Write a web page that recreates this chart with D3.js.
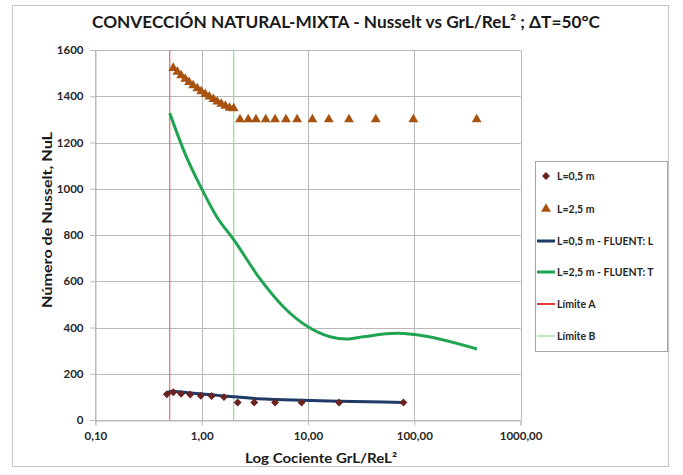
<!DOCTYPE html>
<html>
<head>
<meta charset="utf-8">
<script src="https://cdn.jsdelivr.net/npm/d3@7"></script>
<style>
  body { margin: 0; background: #fff; }
  svg { display: block; font-family: Lato, "Open Sans", sans-serif; }
</style>
</head>
<body>
<svg id="chart" width="683" height="475"></svg>
<script>
// Axis ticks
const xTicks = [0.1, 1, 10, 100, 1000];
const yTicks = [0, 200, 400, 600, 800, 1000, 1200, 1400, 1600];

// L = 0,5 m (measured points)
const l05X = [0.47, 0.54, 0.64, 0.78, 0.98, 1.24, 1.62, 2.18, 3.12, 4.9, 8.7, 19.6, 79];
const l05Y = [111, 120, 113, 110, 105, 104, 99, 76, 76, 76, 76, 76, 76];

// L = 2,5 m (measured points)
const l25X = [0.54, 0.59, 0.64, 0.70, 0.76, 0.83, 0.91, 0.99, 1.08, 1.18, 1.29, 1.40, 1.53, 1.67, 1.83, 2.0,
              2.29, 2.74, 3.24, 4.0, 4.9, 6.2, 7.9, 11.0, 15.7, 24.3, 43.4, 98, 386];
const l25Y = [1522, 1505, 1490, 1475, 1461, 1447, 1434, 1421, 1409, 1398, 1387, 1377, 1367, 1358, 1350, 1347,
              1300, 1300, 1300, 1300, 1300, 1300, 1300, 1300, 1300, 1300, 1300, 1300, 1300];

// FLUENT, laminar (L = 0,5 m)
const fluentLX = [0.47, 0.54, 0.64, 0.78, 0.98, 1.24, 1.62, 2.18, 3.12, 4.9, 8.7, 19.6, 79];
const fluentLY = [118, 124, 121, 117, 113, 109, 104, 99, 93, 89, 85, 81, 76];

// FLUENT, turbulent (L = 2,5 m)
const fluentTX = [0.5, 0.7, 1.0, 1.38, 2.0, 3.54, 5.86, 10, 16.1, 23.1, 33.1, 68.4, 100, 389];
const fluentTY = [1327, 1150, 1000, 880, 780, 610, 490, 403, 360, 350, 360, 375, 370, 307];

// Regime limits
const limitA = 0.5;
const limitB = 2.0;

const legendLabels = ["L=0,5 m", "L=2,5 m", "L=0,5 m - FLUENT: L", "L=2,5 m - FLUENT: T", "Límite A", "Límite B"];

const colors = {
  diamond: "#6b2222",
  triangle: "#a8520f",
  fluentL: "#1f3a66",
  fluentT: "#1fa552",
  limitA: "#ef7272",
  limitB: "#8fe08f",
  grid: "#b9b9b9",
  text: "#262626"
};

const svg = d3.select("#chart");

// Chart frame
svg.append("rect")
  .attr("x", 12.5).attr("y", 5.5).attr("width", 656).attr("height", 461)
  .attr("fill", "#fff").attr("stroke", "#c4c4c4");

const x = d3.scaleLog().domain([0.1, 1000]).range([95.4, 520.6]);
const y = d3.scaleLinear().domain([0, 1600]).range([420, 50]);

// Grid
svg.append("g").selectAll("line").data(yTicks).join("line")
  .attr("x1", x(0.1)).attr("x2", x(1000))
  .attr("y1", d => Math.round(y(d)) + 0.5).attr("y2", d => Math.round(y(d)) + 0.5)
  .attr("stroke", colors.grid).attr("stroke-width", 1);
svg.append("g").selectAll("line").data(xTicks).join("line")
  .attr("x1", d => Math.round(x(d)) + 0.5).attr("x2", d => Math.round(x(d)) + 0.5)
  .attr("y1", y(1600)).attr("y2", y(0))
  .attr("stroke", colors.grid).attr("stroke-width", 1);

// Axes
const fmtX = d => d3.format(".2f")(d).replace(".", ",");
const xAxis = d3.axisBottom(x).tickValues(xTicks).tickFormat(fmtX).tickSize(5).tickPadding(6);
const yAxis = d3.axisLeft(y).tickValues(yTicks).tickFormat(d3.format("d")).tickSize(5).tickPadding(6);

const gx = svg.append("g").attr("transform", "translate(0,420.5)").call(xAxis);
const gy = svg.append("g").attr("transform", "translate(95.5,0)").call(yAxis);
[gx, gy].forEach(g => {
  g.select(".domain").attr("stroke", colors.grid);
  g.selectAll(".tick line").attr("stroke", colors.grid);
  g.selectAll(".tick text")
    .attr("fill", colors.text)
    .style("font-family", "Lato, sans-serif")
    .style("font-weight", "bold")
    .style("font-size", "11.5px");
});
gy.selectAll(".tick text").attr("x", -12);

// Limit lines
svg.append("line")
  .attr("x1", x(limitA)).attr("x2", x(limitA)).attr("y1", y(1600)).attr("y2", y(0))
  .attr("stroke", colors.limitA).attr("stroke-width", 1.3);
svg.append("line")
  .attr("x1", x(limitB)).attr("x2", x(limitB)).attr("y1", y(1600)).attr("y2", y(0))
  .attr("stroke", colors.limitB).attr("stroke-width", 1.2);

// FLUENT curves
const line = d3.line().x(d => x(d[0])).y(d => y(d[1])).curve(d3.curveMonotoneX);
svg.append("path")
  .datum(d3.zip(fluentTX, fluentTY))
  .attr("d", line).attr("fill", "none")
  .attr("stroke", colors.fluentT).attr("stroke-width", 3);
svg.append("path")
  .datum(d3.zip(fluentLX, fluentLY))
  .attr("d", line).attr("fill", "none")
  .attr("stroke", colors.fluentL).attr("stroke-width", 3);

// Measured points
const tri = d3.symbol().type(d3.symbolTriangle).size(42);
const dia = d3.symbol().type(d3.symbolDiamond2).size(40);

svg.append("g").selectAll("path").data(d3.zip(l25X, l25Y)).join("path")
  .attr("d", tri)
  .attr("transform", d => `translate(${x(d[0])},${y(d[1])})`)
  .attr("fill", colors.triangle);

svg.append("g").selectAll("path").data(d3.zip(l05X, l05Y)).join("path")
  .attr("d", dia)
  .attr("transform", d => `translate(${x(d[0])},${y(d[1])})`)
  .attr("fill", colors.diamond);

// Titles
svg.append("text")
  .attr("x", 346).attr("y", 28).attr("text-anchor", "middle")
  .attr("textLength", 508).attr("lengthAdjust", "spacingAndGlyphs")
  .style("font-size", "17px").style("font-weight", "bold").attr("fill", "#1a1a1a")
  .text("CONVECCIÓN NATURAL-MIXTA - Nusselt vs GrL/ReL² ; ΔT=50°C");

svg.append("text")
  .attr("x", 321).attr("y", 463).attr("text-anchor", "middle")
  .attr("textLength", 152).attr("lengthAdjust", "spacingAndGlyphs")
  .style("font-size", "14px").style("font-weight", "bold").attr("fill", "#1a1a1a")
  .text("Log Cociente GrL/ReL²");

svg.append("text")
  .attr("transform", "translate(52,220) rotate(-90)").attr("text-anchor", "middle")
  .attr("textLength", 176).attr("lengthAdjust", "spacingAndGlyphs")
  .style("font-size", "14px").style("font-weight", "bold").attr("fill", "#1a1a1a")
  .text("Número de Nusselt, NuL");

// Legend
const lg = svg.append("g");
lg.append("rect")
  .attr("x", 535.5).attr("y", 161.5).attr("width", 132).attr("height", 190)
  .attr("fill", "#fff").attr("stroke", "#a6a6a6");

const rowY = [176, 209, 241, 272, 304, 336];
const rows = lg.selectAll("g.row").data(legendLabels).join("g")
  .attr("class", "row")
  .attr("transform", (d, i) => `translate(0,${rowY[i]})`);

rows.append("text")
  .attr("x", 557).attr("y", 4)
  .style("font-size", "10.5px").style("font-weight", "bold").attr("fill", colors.text)
  .text(d => d);

rows.filter((d, i) => i === 0).append("path")
  .attr("d", dia).attr("transform", "translate(546,0)").attr("fill", colors.diamond);
rows.filter((d, i) => i === 1).append("path")
  .attr("d", tri).attr("transform", "translate(546,0)").attr("fill", colors.triangle);

const legendLines = [
  null, null,
  { c: colors.fluentL, w: 3 },
  { c: colors.fluentT, w: 3 },
  { c: "#e23b3b", w: 2 },
  { c: colors.limitB, w: 1.2 }
];
rows.filter((d, i) => legendLines[i]).append("line")
  .attr("x1", 537).attr("x2", 555).attr("y1", 0).attr("y2", 0)
  .attr("stroke", d => legendLines[legendLabels.indexOf(d)].c)
  .attr("stroke-width", d => legendLines[legendLabels.indexOf(d)].w);
</script>
</body>
</html>
